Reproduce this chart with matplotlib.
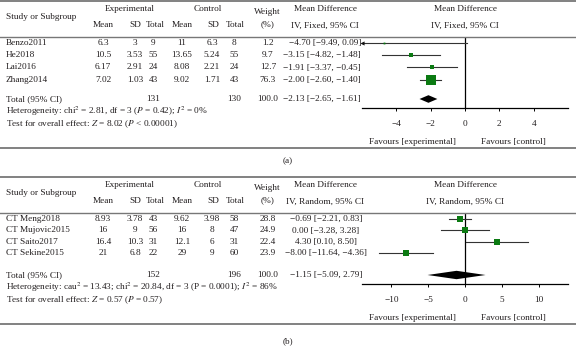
import matplotlib
matplotlib.use("Agg")
import matplotlib.pyplot as plt
import numpy as np

plt.rcParams['font.family'] = ['Liberation Serif', 'DejaVu Serif']
plt.rcParams['mathtext.fontset'] = 'stix'

# panel (a) data
studies_a = ["Benzo2011", "He2018", "Lai2016", "Zhang2014"]
exp_mean_a = ["6.3", "10.5", "6.17", "7.02"]
exp_sd_a = ["3", "3.53", "2.91", "1.03"]
exp_n_a = ["9", "55", "24", "43"]
ctl_mean_a = ["11", "13.65", "8.08", "9.02"]
ctl_sd_a = ["6.3", "5.24", "2.21", "1.71"]
ctl_n_a = ["8", "55", "24", "43"]
weight_a = [1.2, 9.7, 12.7, 76.3]
md_a = [-4.70, -3.15, -1.91, -2.00]
lo_a = [-9.49, -4.82, -3.37, -2.60]
hi_a = [0.09, -1.48, -0.45, -1.40]
total_a = dict(n_exp="131", n_ctl="130", md=-2.13, lo=-2.65, hi=-1.61)
het_a = r"Heterogeneity: chi$^2$ = 2.81, df = 3 ($P$ = 0.42); $I^2$ = 0%"
test_a = r"Test for overall effect: $Z$ = 8.02 ($P$ < 0.00001)"
ticks_a = [-4, -2, 0, 2, 4]

# panel (b) data
studies_b = ["CT Meng2018", "CT Mujovic2015", "CT Saito2017", "CT Sekine2015"]
exp_mean_b = ["8.93", "16", "16.4", "21"]
exp_sd_b = ["3.78", "9", "10.3", "6.8"]
exp_n_b = ["43", "56", "31", "22"]
ctl_mean_b = ["9.62", "16", "12.1", "29"]
ctl_sd_b = ["3.98", "8", "6", "9"]
ctl_n_b = ["58", "47", "31", "60"]
weight_b = [28.8, 24.9, 22.4, 23.9]
md_b = [-0.69, 0.00, 4.30, -8.00]
lo_b = [-2.21, -3.28, 0.10, -11.64]
hi_b = [0.83, 3.28, 8.50, -4.36]
total_b = dict(n_exp="152", n_ctl="196", md=-1.15, lo=-5.09, hi=2.79)
het_b = (r"Heterogeneity: cau$^2$ = 13.43; chi$^2$ = 20.84, df = 3 (P = 0.0001); "
         r"$I^2$ = 86%")
test_b = r"Test for overall effect: $Z$ = 0.57 ($P$ = 0.57)"
ticks_b = [-10, -5, 0, 5, 10]

W, H = 576, 347
fig = plt.figure(figsize=(W / 100, H / 100), dpi=100)
FS = 6.7
TXT = "#231f20"
GREEN = "#0b7a12"


def t(x, y, s, ha="center", **kw):
    fig.text(x / W, 1 - y / H, s, ha=ha, va="center", fontsize=FS, color=TXT, **kw)


def hline(y, lw=1.3, color="#777777"):
    fig.add_artist(plt.Line2D([0, 1], [1 - y / H, 1 - y / H], lw=lw, color=color))


def fmt_ci(m, a, b):
    return f"{m:.2f} [{a:.2f}, {b:.2f}]".replace("-", "\u2212")


def panel(top, studies, em, es, en, cm, cs, cn, w, md, lo, hi, tot,
          het, test, method, xlim, ticks, row_gap, ci_ha, dia_h):
    hline(top)
    t(130, top + 8, "Experimental")
    t(208, top + 8, "Control")
    t(6, top + 16, "Study or Subgroup", ha="left")
    t(267, top + 11, "Weight")
    t(268, top + 23, "(%)")
    for x, s in zip([103, 135, 155, 182, 213, 235],
                    ["Mean", "SD", "Total", "Mean", "SD", "Total"]):
        t(x, top + 24, s)
    t(325, top + 8, "Mean Difference")
    t(325, top + 25, method)
    t(465, top + 8, "Mean Difference")
    t(465, top + 25, method)
    hline(top + 36, lw=1.0)

    ci_x = 361 if ci_ha == "right" else 326
    rows = [top + 42 + row_gap * i for i in range(len(studies))]
    ytot = top + 98
    for i, y in enumerate(rows):
        t(6, y, studies[i], ha="left")
        for x, s in zip([103, 135, 153, 182, 212, 234],
                        [em[i], es[i], en[i], cm[i], cs[i], cn[i]]):
            t(x, y, s)
        t(268, y, f"{w[i]:.1f}")
        t(ci_x, y, fmt_ci(md[i], lo[i], hi[i]), ha=ci_ha)
    t(6, ytot, "Total (95% CI)", ha="left")
    t(153, ytot, tot["n_exp"])
    t(234, ytot, tot["n_ctl"])
    t(268, ytot, "100.0")
    t(ci_x, ytot, fmt_ci(tot["md"], tot["lo"], tot["hi"]), ha=ci_ha)
    t(6, top + 110.5, het, ha="left")
    t(6, top + 123.5, test, ha="left")

    # forest axes
    y0, y1 = top + 36, top + 107
    ax = fig.add_axes([362 / W, 1 - y1 / H, (568 - 362) / W, (y1 - y0) / H])
    ax.set_xlim(xlim)
    ax.set_ylim(y1, y0)
    for sp in ["top", "left", "right"]:
        ax.spines[sp].set_visible(False)
    ax.spines["bottom"].set_linewidth(0.9)
    ax.set_yticks([])
    ax.set_xticks(ticks)
    ax.set_xticklabels([str(v).replace("-", "\u2212") for v in ticks],
                       fontsize=FS, color=TXT)
    ax.tick_params(axis="x", length=2, width=0.7, pad=7)
    ax.axvline(0, color="black", lw=0.9)
    for i, y in enumerate(rows):
        a = max(lo[i], xlim[0])
        ax.plot([a, hi[i]], [y, y], color="#333333", lw=0.8, clip_on=False)
        if lo[i] < xlim[0]:
            ax.plot(xlim[0], y, "<", color="#111111", ms=3, mew=0, clip_on=False)
        ax.plot(md[i], y, "s", color=GREEN, ms=max(0.85 * np.sqrt(w[i]), 1.3), mew=0)
    ax.fill([tot["lo"], tot["md"], tot["hi"], tot["md"]],
            [ytot, ytot - dia_h, ytot, ytot + dia_h], color="black", lw=0)
    t(412, top + 141, "Favours [experimental]")
    t(513, top + 141, "Favours [control]")
    hline(top + 147)


panel(1, studies_a, exp_mean_a, exp_sd_a, exp_n_a, ctl_mean_a, ctl_sd_a,
      ctl_n_a, weight_a, md_a, lo_a, hi_a, total_a, het_a, test_a,
      "IV, Fixed, 95% CI", (-6, 6), ticks_a, 12.2, "right", 3.8)
t(288, 161, "(a)")
panel(177, studies_b, exp_mean_b, exp_sd_b, exp_n_b, ctl_mean_b, ctl_sd_b,
      ctl_n_b, weight_b, md_b, lo_b, hi_b, total_b, het_b, test_b,
      "IV, Random, 95% CI", (-14, 14), ticks_b, 11.4, "center", 4.2)
t(288, 341, "(b)")

fig.savefig("out.png", dpi=100)
